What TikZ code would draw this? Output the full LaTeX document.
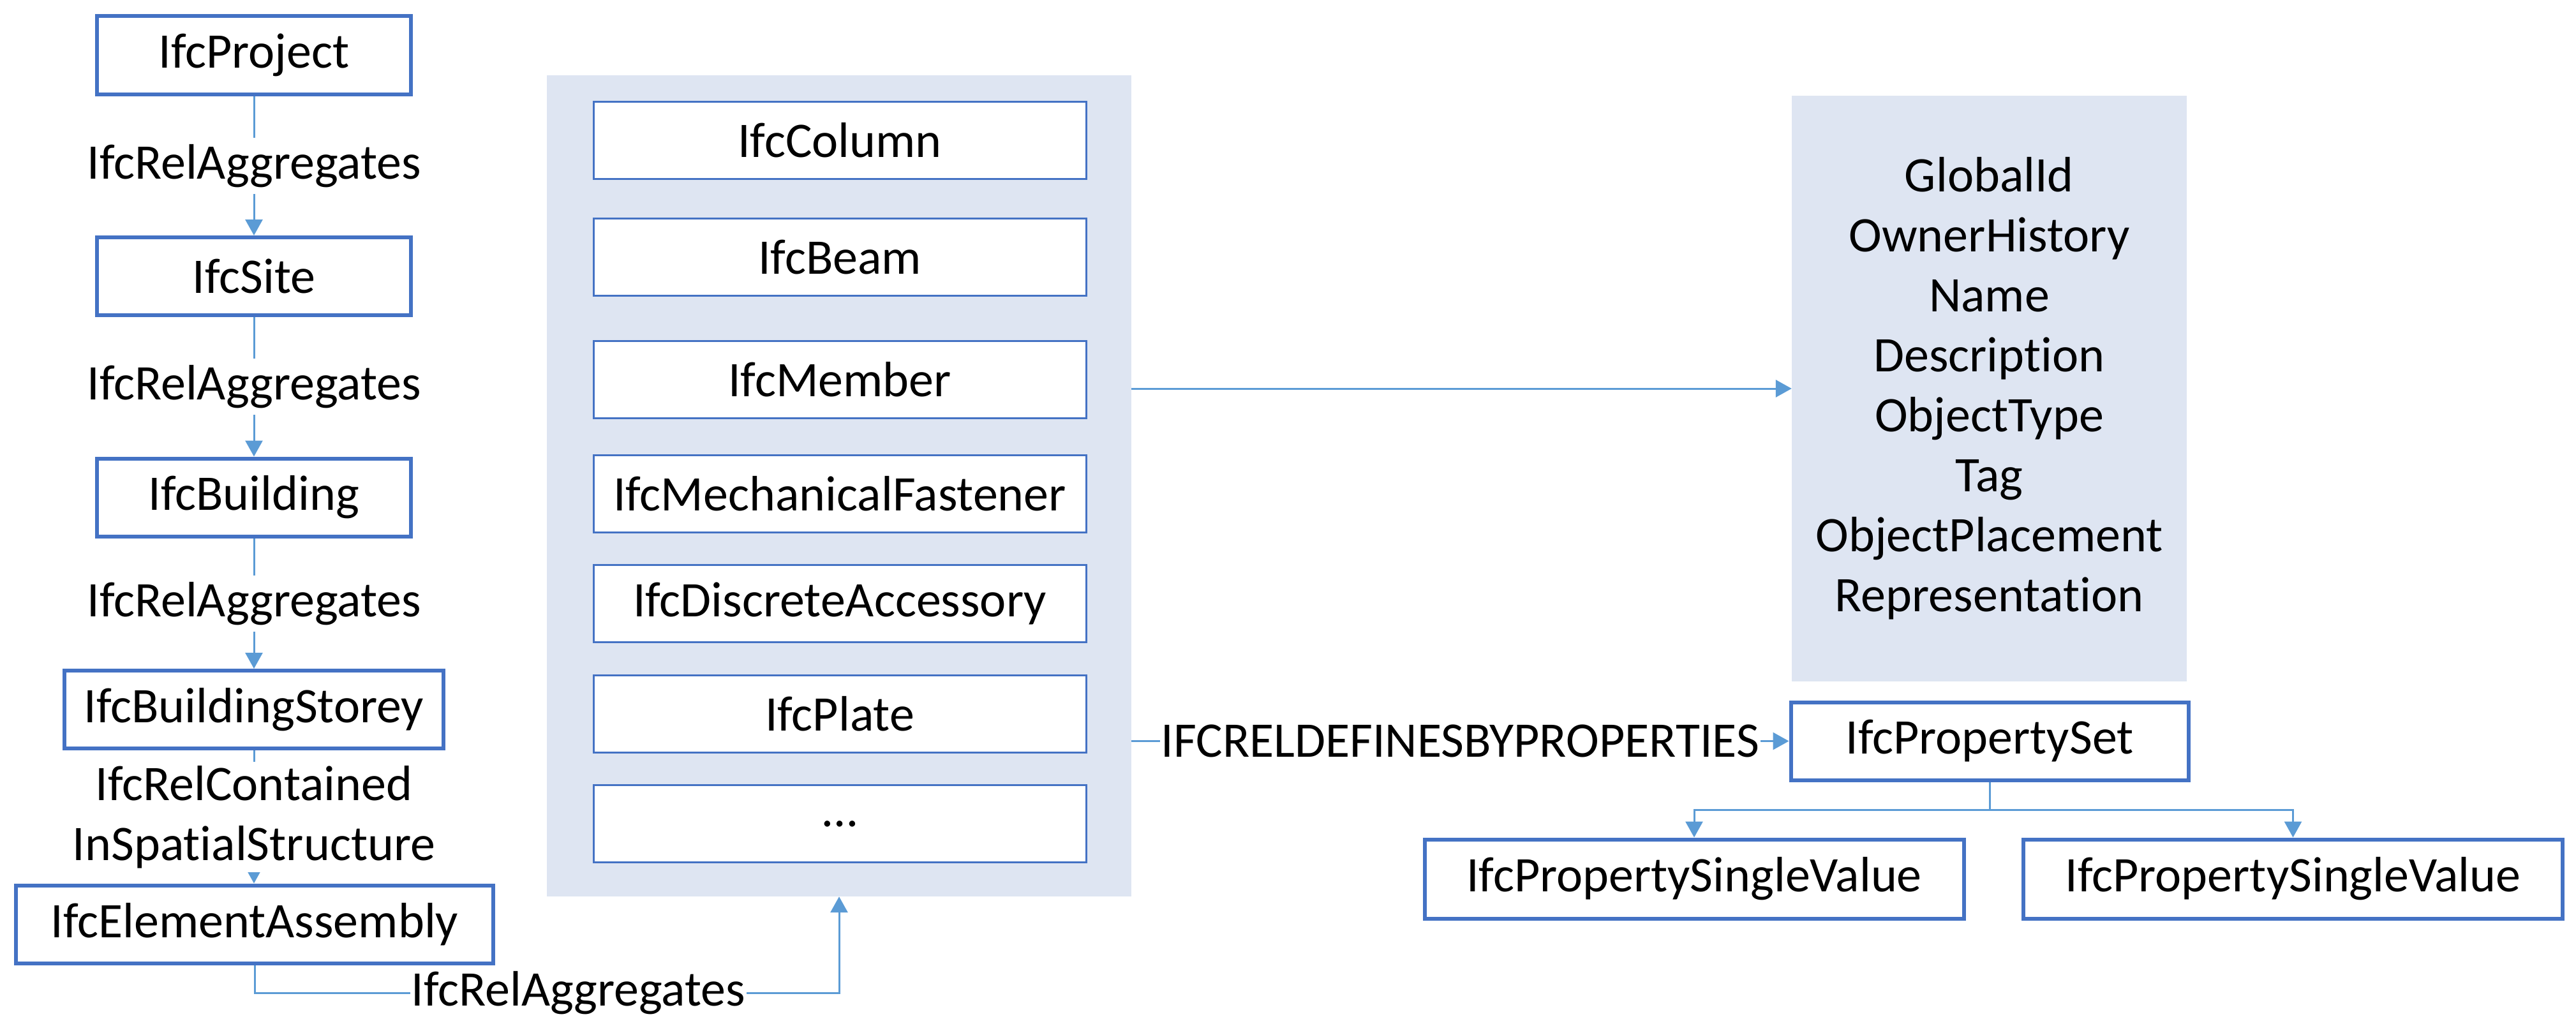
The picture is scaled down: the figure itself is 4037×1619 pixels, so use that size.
\documentclass[tikz,border=0pt]{standalone}
\usepackage{fontspec}
\setmainfont{Carlito}[Ligatures=NoCommon]
\usetikzlibrary{arrows.meta}
\definecolor{boxblue}{HTML}{4472C4}
\definecolor{lineblue}{HTML}{5B9BD5}
\definecolor{panelfill}{HTML}{DEE5F2}
\begin{document}
\begin{tikzpicture}[x=1pt,y=-1pt,
  every node/.style={font=\fontsize{78}{94}\selectfont, text=black},
  lbox/.style={draw=boxblue, line width=6pt, fill=white, minimum height=122pt, inner sep=0pt},
  ibox/.style={draw=boxblue, line width=3pt, fill=white, minimum width=772pt, minimum height=121pt, inner sep=0pt},
  conn/.style={draw=lineblue, line width=3pt, -{Triangle[length=25pt,width=27pt]}},
  lbl/.style={fill=white, inner xsep=2pt, inner ysep=10pt, align=center},
  panel/.style={fill=panelfill, inner sep=0pt}]
\useasboundingbox (0,0) rectangle (4037,1619);

% left column
\node[lbox, minimum width=492pt] (proj) at (398,86.5) {IfcProject};
\node[lbox, minimum width=492pt] (site) at (398,433) {IfcSite};
\node[lbox, minimum width=492pt] (bldg) at (398,779.5) {IfcBuilding};
\node[lbox, minimum width=594pt] (stor) at (398,1112) {IfcBuildingStorey};
\node[lbox, minimum width=748pt] (asm) at (399,1448.5) {IfcElementAssembly};

\draw[conn] (proj) -- node[lbl]{IfcRelAggregates} (site);
\draw[conn] (site) -- node[lbl]{IfcRelAggregates} (bldg);
\draw[conn] (bldg) -- node[lbl]{IfcRelAggregates} (stor);
\draw[conn] (stor.south) -- node[lbl, inner ysep=6pt]{IfcRelContained\\InSpatialStructure} (stor.south |- asm.north);

% middle panel
\node[panel, minimum width=916pt, minimum height=1287pt] (mid) at (1315,761.5) {};
\node[ibox] (col) at (1316,220) {IfcColumn};
\node[ibox] (beam) at (1316,403) {IfcBeam};
\node[ibox] (mem) at (1316,595) {IfcMember};
\node[ibox] (mf) at (1316,774) {IfcMechanicalFastener};
\node[ibox] (da) at (1316,946) {IfcDiscreteAccessory};
\node[ibox] (pl) at (1316,1119) {IfcPlate};
\node[ibox] (more) at (1316,1291) {…};

% bottom connector
\coordinate (bb) at (0,1556);
\draw[conn] (asm.south) -- (asm.south |- bb) -- node[lbl, inner ysep=2pt, pos=0.554]{IfcRelAggregates} (mid.south |- bb) -- (mid.south);

% right panel
\node[panel, minimum width=619pt, minimum height=918pt, align=center] (rp) at (3117.5,609)
  {GlobalId\\OwnerHistory\\Name\\Description\\ObjectType\\Tag\\ObjectPlacement\\Representation};
\draw[conn] (mid.east |- rp.west) -- (rp.west);

% property set
\node[lbox, minimum width=623pt, minimum height=122pt] (ps) at (3118,1161.5) {IfcPropertySet};
\draw[conn] (mid.east |- ps.west) -- node[lbl, inner ysep=2pt]{IFCRELDEFINESBYPROPERTIES} (ps.west);

\node[lbox, minimum width=845pt, minimum height=124pt] (svl) at (2655,1377.5) {IfcPropertySingleValue};
\node[lbox, minimum width=845pt, minimum height=124pt] (svr) at (3593.5,1377.5) {IfcPropertySingleValue};
\coordinate (j) at (3118,1269);
\draw[conn] (ps.south) -- (j) -| (svl.north);
\draw[conn] (j) -| (svr.north);
\end{tikzpicture}
\end{document}
